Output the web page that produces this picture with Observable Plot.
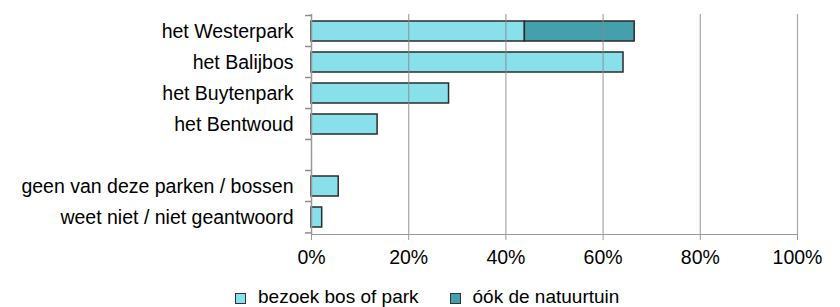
<!DOCTYPE html>
<html>
<head>
<meta charset="utf-8">
<script src="https://cdn.jsdelivr.net/npm/d3@7"></script>
<script src="https://cdn.jsdelivr.net/npm/@observablehq/plot@0.6"></script>
<style>
  html, body { margin: 0; padding: 0; background: #fff; overflow: hidden; }
  #wrap { width: 840px; height: 307px; overflow: hidden; position: relative; font-family: "Liberation Sans", Arial, sans-serif; }
  #chart svg text { fill: #000; }
  #legend { position: absolute; left: 0; top: 286px; display: flex; align-items: center; padding-left: 235px; font-size: 19px; line-height: 22px; color: #000; white-space: nowrap; }
  .item { display: flex; align-items: center; margin-right: 31px; }
  .sw { width: 9px; height: 9px; border: 1px solid #333; margin-right: 12px; margin-top: 2px; }
</style>
</head>
<body>
<div id="wrap">
  <div id="chart"></div>
  <div id="legend"></div>
</div>
<script>
const categories = ["het Westerpark", "het Balijbos", "het Buytenpark", "het Bentwoud", "", "geen van deze parken / bossen", "weet niet / niet geantwoord"];
const seriesNames = ["bezoek bos of park", "óók de natuurtuin"];
const bezoek = [43.9, 64.2, 28.3, 13.6, null, 5.6, 2.2];
const natuurtuin = [22.6, 0, 0, 0, null, 0, 0];
const xTicks = [0, 20, 40, 60, 80, 100];
const colors = ["#88e0eb", "#45a0ae"];

const data = [];
categories.forEach((c, i) => {
  if (bezoek[i] != null) data.push({category: c, series: seriesNames[0], value: bezoek[i]});
  if (natuurtuin[i]) data.push({category: c, series: seriesNames[1], value: natuurtuin[i]});
});

const W = 840, H = 286, mt = 14, mb = H - 234, ml = 311, mr = 840 - 797;
const step = (H - mt - mb) / categories.length;
const padInner = 0.35;

// y-axis tick marks at the band boundaries, positioned through the y scale
function bandBoundaryTicks(a, b) {
  const scales = (a && typeof a.y === "function") ? a : b;
  const y = scales.y;
  const bw = step * (1 - padInner);
  const g = d3.create("svg:g").attr("stroke", "#8c8c8c").attr("stroke-width", 1.5);
  const ys = categories.map(c => y(c) + bw / 2 - step / 2);
  ys.push(y(categories[categories.length - 1]) + bw / 2 + step / 2);
  ys.forEach(v => g.append("line").attr("x1", ml - 6).attr("x2", ml).attr("y1", v).attr("y2", v));
  return g.node();
}

const chart = Plot.plot({
  width: W, height: H,
  marginTop: mt, marginBottom: mb, marginLeft: ml, marginRight: mr,
  style: {fontFamily: "Liberation Sans, Arial, sans-serif", fontSize: "19.5px", color: "#999", background: "#fff"},
  x: {domain: [0, 100], ticks: xTicks, tickFormat: d => d + "%", line: true, tickSize: 6, tickPadding: 10, label: null},
  y: {domain: categories, paddingInner: padInner, paddingOuter: padInner / 2, label: null, axis: null},
  color: {domain: seriesNames, range: colors},
  marks: [
    Plot.barX(data, {x: "value", y: "category", fill: "series", stroke: "#2b2b2b", strokeWidth: 1.5}),
    Plot.ruleX(xTicks.slice(1), {stroke: "#8a8a8a", strokeOpacity: 0.75, strokeWidth: 1.2}),
    Plot.ruleX([0], {stroke: "#999", strokeWidth: 1.5}),
    Plot.axisY({tickSize: 0, tickPadding: 18, tickFormat: d => d, fontSize: "19.5px"}),
    bandBoundaryTicks
  ]
});
document.getElementById("chart").appendChild(chart);

const legend = document.getElementById("legend");
seriesNames.forEach((s, i) => {
  const it = document.createElement("div");
  it.className = "item";
  const sw = document.createElement("div");
  sw.className = "sw";
  sw.style.background = colors[i];
  const t = document.createElement("span");
  t.textContent = s;
  it.appendChild(sw); it.appendChild(t);
  legend.appendChild(it);
});
</script>
</body>
</html>
